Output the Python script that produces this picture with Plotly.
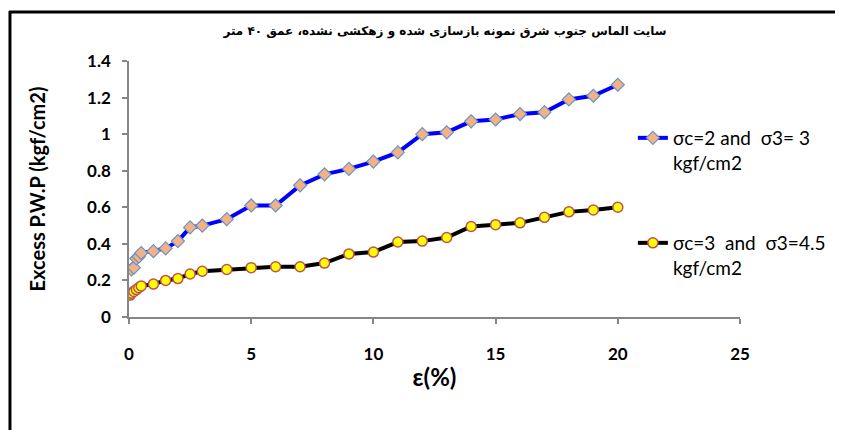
import plotly.graph_objects as go

title_text = "سایت الماس جنوب شرق نمونه بازسازی شده و زهکشی نشده، عمق ۴۰ متر"
x_label = "ε(%)"
y_label = "Excess P.W.P (kgf/cm2)"

series1_name = "σc=2 and  σ3= 3<br>kgf/cm2"
strain1 = [0.1, 0.2, 0.3, 0.4, 0.5, 1, 1.5, 2, 2.5, 3, 4, 5, 6, 7, 8, 9, 10, 11, 12, 13, 14, 15, 16, 17, 18, 19, 20]
pwp1 = [0.26, 0.27, 0.32, 0.33, 0.35, 0.36, 0.375, 0.415, 0.49, 0.50, 0.535, 0.61, 0.61, 0.72, 0.78, 0.81, 0.85, 0.90, 1.0, 1.01, 1.07, 1.08, 1.11, 1.12, 1.19, 1.21, 1.27]

series2_name = "σc=3  and  σ3=4.5<br>kgf/cm2"
strain2 = [0.05, 0.1, 0.2, 0.3, 0.4, 0.5, 1, 1.5, 2, 2.5, 3, 4, 5, 6, 7, 8, 9, 10, 11, 12, 13, 14, 15, 16, 17, 18, 19, 20]
pwp2 = [0.12, 0.13, 0.14, 0.15, 0.16, 0.17, 0.18, 0.20, 0.21, 0.235, 0.25, 0.26, 0.27, 0.275, 0.275, 0.295, 0.345, 0.355, 0.41, 0.415, 0.435, 0.495, 0.505, 0.515, 0.545, 0.575, 0.585, 0.60]

x_ticks = [0, 5, 10, 15, 20, 25]
y_ticks = [0, 0.2, 0.4, 0.6, 0.8, 1, 1.2, 1.4]
y_tick_text = ["0", "0.2", "0.4", "0.6", "0.8", "1", "1.2", "1.4"]

FONT = "Lato, 'Open Sans', sans-serif"

fig = go.Figure()
fig.add_trace(go.Scatter(
    x=strain1, y=pwp1, name=series1_name, mode="lines+markers",
    line=dict(color="#0000FF", width=4),
    marker=dict(symbol="diamond", size=10, color="#F4B183",
                line=dict(color="#6A93C8", width=1.2)),
    legend="legend", showlegend=True,
))
fig.add_trace(go.Scatter(
    x=strain2, y=pwp2, name=series2_name, mode="lines+markers",
    line=dict(color="#000000", width=4),
    marker=dict(symbol="circle", size=10, color="#FFFF00",
                line=dict(color="#C0504D", width=1.5)),
    legend="legend2", showlegend=True,
))

# page body has an 8px margin; target pixel positions are shifted by it
O = 8
W, H = 843 - O, 430 - O
L, T = 129 - O, 61 - O
pw = 745 - 129
ph = 317 - 61
R = W - L - pw
B = H - T - ph

def px(xp):
    return (xp - O - L) / pw

def py(yp):
    return (T + ph - (yp - O)) / ph

frame = dict(color="#000000", width=3)
fig.update_layout(
    width=W, height=H,
    margin=dict(l=L, r=R, t=T, b=B, pad=0),
    paper_bgcolor="white", plot_bgcolor="white",
    showlegend=True,
    font=dict(family=FONT, color="#000000"),
    title=dict(text="<b>" + title_text + "</b>", x=(445 - O) / W, xanchor="center",
               y=1 - (31 - O) / H, yanchor="middle",
               font=dict(size=12, family="'DejaVu Sans', 'Noto Sans', sans-serif")),
    xaxis=dict(
        range=[0, 25], tickvals=x_ticks, showgrid=False, zeroline=False,
        showline=True, linecolor="#868686", linewidth=1.5,
        ticks="outside", ticklen=5, tickcolor="#868686", tickwidth=1.5,
        ticklabelstandoff=16, automargin=False,
        tickfont=dict(size=17, family=FONT, weight="bold"),
        title=dict(text="<b>" + x_label + "</b>", font=dict(size=24, family=FONT), standoff=6),
    ),
    yaxis=dict(
        range=[0, 1.4], tickvals=y_ticks, ticktext=y_tick_text, showgrid=False, zeroline=False,
        showline=True, linecolor="#868686", linewidth=1.5,
        ticks="outside", ticklen=5, tickcolor="#868686", tickwidth=1.5,
        ticklabelstandoff=8, automargin=False,
        tickfont=dict(size=17, family=FONT, weight="bold"),
        title=dict(text="<b>" + y_label + "</b>", font=dict(size=20, family=FONT), standoff=36),
    ),
    legend=dict(x=px(637), y=py(119), xanchor="left", yanchor="top",
                bgcolor="rgba(0,0,0,0)", valign="top",
                font=dict(size=19, family=FONT)),
    legend2=dict(x=px(637), y=py(224), xanchor="left", yanchor="top",
                 bgcolor="rgba(0,0,0,0)", valign="top",
                 font=dict(size=19, family=FONT)),
    shapes=[
        dict(type="line", xref="paper", yref="paper",
             x0=px(8), x1=px(845), y0=py(12), y1=py(12), line=frame, layer="above"),
        dict(type="line", xref="paper", yref="paper",
             x0=px(9), x1=px(9), y0=py(11), y1=py(432), line=frame, layer="above"),
    ],
)

fig.write_html("out.html")
